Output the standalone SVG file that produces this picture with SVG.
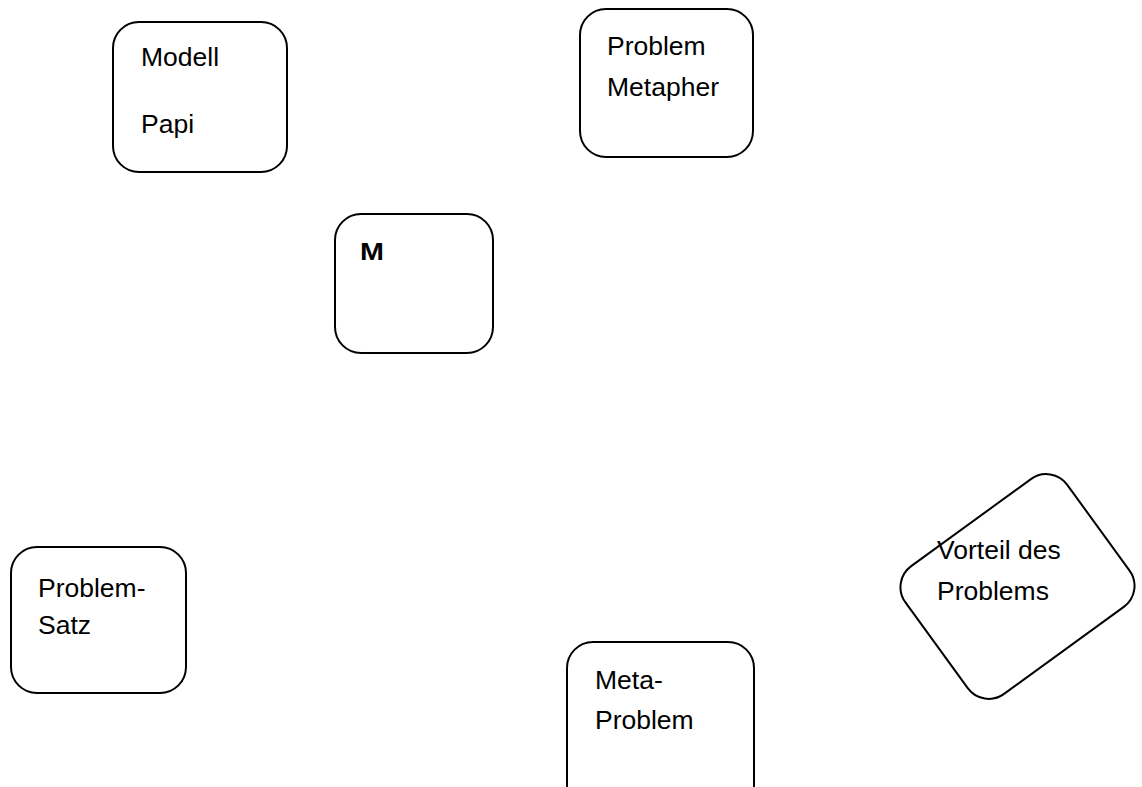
<svg xmlns="http://www.w3.org/2000/svg" width="1142" height="787" viewBox="0 0 1142 787">
<style>
.box{fill:#fff;stroke:#000;stroke-width:2}
.t{font-family:"Liberation Sans",Arial,sans-serif;font-size:26.5px;fill:#000}
.b{font-family:"Liberation Sans",Arial,sans-serif;font-size:23px;font-weight:bold;fill:#000}
</style>
<rect width="1142" height="787" fill="#fff"/>
<g id="connectors"></g>
<g id="modell">
<rect class="box" x="113" y="22" width="174" height="150" rx="26"/>
<text class="t" x="141" y="66">Modell</text>
<text class="t" x="141" y="133">Papi</text>
</g>
<g id="problem-metapher">
<rect class="box" x="580" y="9" width="173" height="148" rx="26"/>
<text class="t" x="607" y="55">Problem</text>
<text class="t" x="607" y="96">Metapher</text>
</g>
<g id="m">
<rect class="box" x="335" y="214" width="158" height="139" rx="26"/>
<text class="b" x="0" y="0" transform="translate(360 259.5) scale(1.25 1)">M</text>
</g>
<g id="problem-satz">
<rect class="box" x="11" y="547" width="175" height="146" rx="26"/>
<text class="t" x="38" y="597">Problem-</text>
<text class="t" x="38" y="634">Satz</text>
</g>
<g id="meta-problem">
<rect class="box" x="567" y="642" width="187" height="170" rx="26"/>
<text class="t" x="595" y="689">Meta-</text>
<text class="t" x="595" y="729">Problem</text>
</g>
<g id="vorteil">
<rect class="box" x="-100" y="-79" width="200" height="158" rx="26" transform="translate(1017.5 586.5) rotate(-36)"/>
<text class="t" x="937" y="559">Vorteil des</text>
<text class="t" x="937" y="600">Problems</text>
</g>
</svg>
